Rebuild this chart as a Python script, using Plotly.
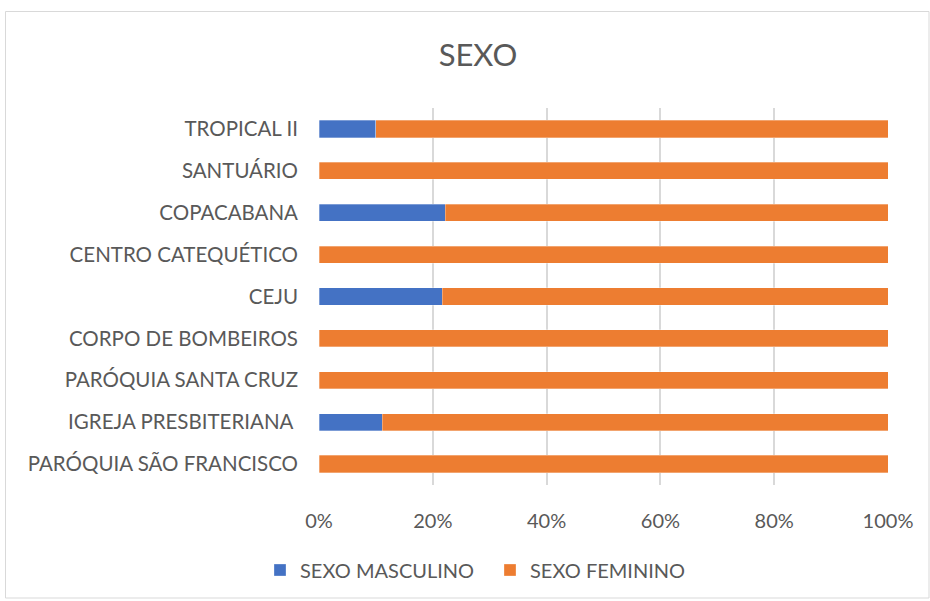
import plotly.graph_objects as go

categories = ["PARÓQUIA SÃO FRANCISCO", "IGREJA PRESBITERIANA ", "PARÓQUIA SANTA CRUZ",
              "CORPO DE BOMBEIROS", "CEJU", "CENTRO CATEQUÉTICO", "COPACABANA",
              "SANTUÁRIO", "TROPICAL II"]
masculino = [0, 11.1, 0, 0, 21.7, 0, 22.2, 0, 10.0]
feminino = [100 - m for m in masculino]
x_ticks = [0, 20, 40, 60, 80, 100]
x_tick_labels = ["0%", "20%", "40%", "60%", "80%", "100%"]

W, H = 930, 601
ml, mr, mt, mb = 319, 42, 108, 116
pw, ph = W - ml - mr, H - mt - mb

fig = go.Figure()
fig.add_trace(go.Bar(y=categories, x=masculino, orientation="h", name="SEXO MASCULINO",
                     marker=dict(color="#4472C4", line=dict(color="rgba(255,255,255,0.6)", width=0.5))))
fig.add_trace(go.Bar(y=categories, x=feminino, orientation="h", name="SEXO FEMININO",
                     marker=dict(color="#ED7D31", line=dict(color="rgba(255,255,255,0.6)", width=0.5))))

font_fam = "Lato, Open Sans, sans-serif"

def px2paper_x(px):
    return (px - ml) / pw

def px2paper_y(py):
    return 1 - (py - mt) / ph

fig.update_layout(
    barmode="stack",
    bargap=0.59,
    width=W, height=H,
    margin=dict(l=ml, r=mr, t=mt, b=mb, autoexpand=False),
    paper_bgcolor="white", plot_bgcolor="white",
    font=dict(family=font_fam, color="#595959", size=20),
    title=dict(text="SEXO", x=0.514, xanchor="center", y=1 - 55 / H, yanchor="middle",
               font=dict(size=31, color="#595959", family=font_fam)),
    xaxis=dict(range=[0, 100], tickvals=x_ticks, ticktext=x_tick_labels,
               showgrid=True, gridcolor="#D9D9D9", gridwidth=1.5, zeroline=False,
               showline=False, ticks="", ticklabelstandoff=22,
               tickfont=dict(size=20, color="#595959")),
    yaxis=dict(categoryorder="array", categoryarray=categories, showgrid=False,
               showline=False, ticks="", ticklabelstandoff=20,
               tickfont=dict(size=20.5, color="#595959")),
    legend=dict(orientation="h", x=px2paper_x(260), xanchor="left", y=px2paper_y(570), yanchor="middle",
                font=dict(size=20, color="#595959"), traceorder="normal",
                itemwidth=30, entrywidthmode="pixels", entrywidth=185),
    showlegend=True,
)

fig.add_shape(type="rect", xref="paper", yref="paper",
              x0=px2paper_x(5.5), x1=px2paper_x(929), y0=px2paper_y(598), y1=px2paper_y(11.5),
              line=dict(color="#D9D9D9", width=1), fillcolor="rgba(0,0,0,0)", layer="below")

fig.write_html("out.html", config={"displayModeBar": False},
               post_script="document.body.style.margin='0px';document.body.style.overflow='hidden';")
